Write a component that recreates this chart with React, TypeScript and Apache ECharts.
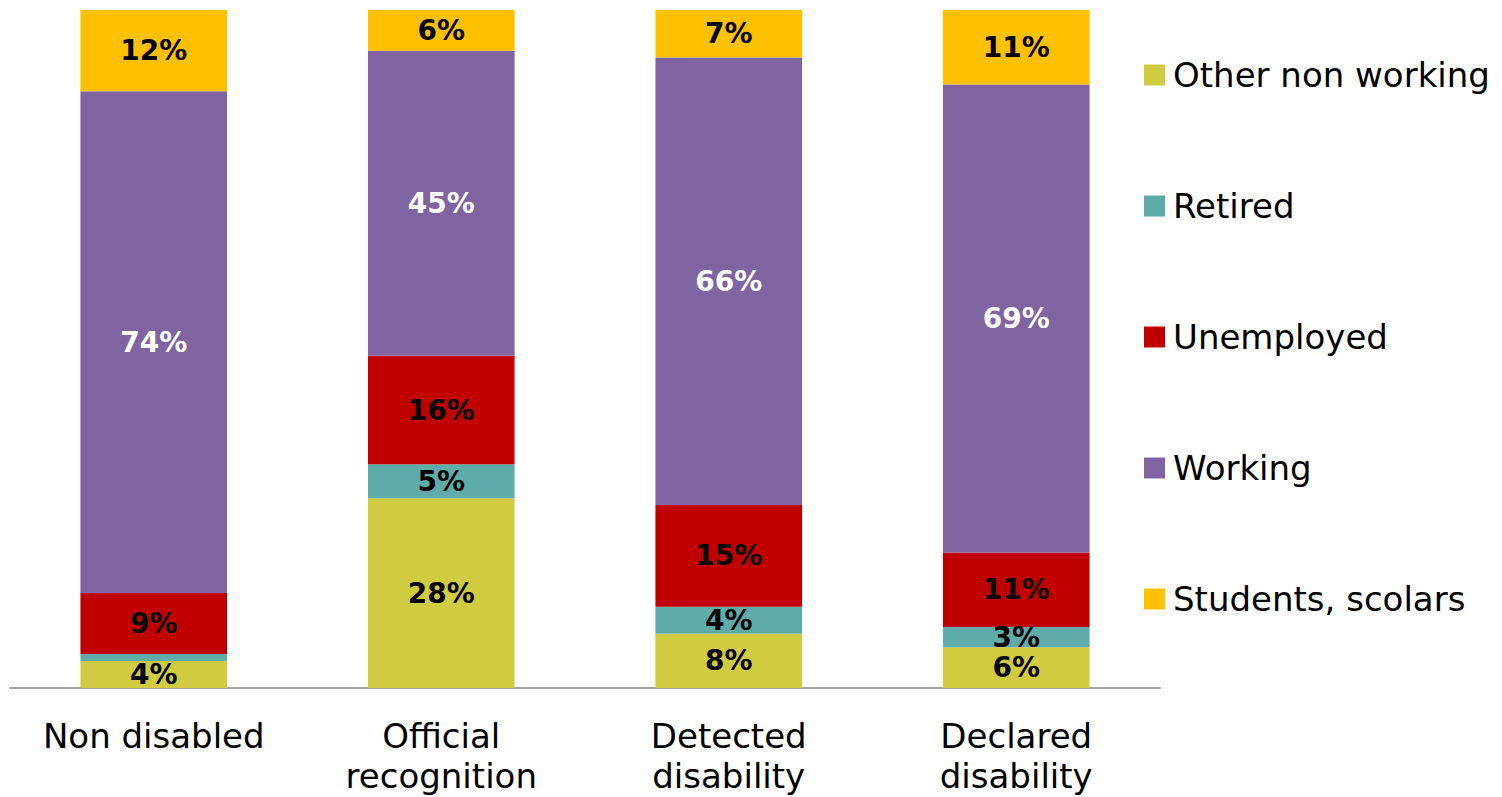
import React, { useEffect, useRef } from "react";
import * as echarts from "echarts";

const categories = ["Non disabled", "Official\nrecognition", "Detected\ndisability", "Declared\ndisability"];
const otherNonWorking = [4, 28, 8, 6];
const retired = [1, 5, 4, 3];
const unemployed = [9, 16, 15, 11];
const working = [74, 45, 66, 69];
const students = [12, 6, 7, 11];

const seriesDefs = [
  { name: "Other non working", data: otherNonWorking, color: "#D0CB41", labelColor: "#000000" },
  { name: "Retired", data: retired, color: "#5FABA9", labelColor: "#000000" },
  { name: "Unemployed", data: unemployed, color: "#C00000", labelColor: "#000000" },
  { name: "Working", data: working, color: "#8064A2", labelColor: "#FFFFFF" },
  { name: "Students, scolars", data: students, color: "#FFC000", labelColor: "#000000" },
];

const FONT = "'DejaVu Sans', Verdana, sans-serif";

export default function App() {
  const ref = useRef<HTMLDivElement>(null);
  useEffect(() => {
    if (!ref.current) return;
    const chart = echarts.init(ref.current, undefined, { renderer: "svg" });
    chart.setOption({
      animation: false,
      backgroundColor: "#FFFFFF",
      textStyle: { fontFamily: FONT },
      grid: { left: 10, right: 342, top: 10, bottom: 109, containLabel: false },
      legend: {
        orient: "vertical",
        left: 1144,
        top: 58,
        padding: 0,
        itemWidth: 21,
        itemHeight: 21,
        itemGap: 97,
        icon: "rect",
        data: seriesDefs.map((s) => s.name),
        textStyle: { fontFamily: FONT, fontSize: 34, color: "#000000", lineHeight: 34, padding: [0, 0, 0, 3] },
      },
      xAxis: {
        type: "category",
        data: categories,
        axisLine: { lineStyle: { color: "#A6A6A6", width: 2 } },
        axisTick: { show: false },
        axisLabel: {
          interval: 0,
          margin: 28,
          fontFamily: FONT,
          fontSize: 34,
          lineHeight: 40,
          color: "#000000",
          verticalAlign: "top",
        },
      },
      yAxis: {
        type: "value",
        min: 0,
        max: 100,
        show: false,
        splitLine: { show: false },
      },
      series: seriesDefs.map((s) => ({
        name: s.name,
        type: "bar",
        stack: "total",
        barWidth: "51%",
        itemStyle: { color: s.color },
        data: s.data.map((v) => ({
          value: v,
          label: { show: v >= 2 },
        })),
        label: {
          show: true,
          position: "inside",
          formatter: "{c}%",
          fontFamily: FONT,
          fontWeight: "bold",
          fontSize: 28,
          color: s.labelColor,
        },
      })),
    });
    return () => chart.dispose();
  }, []);
  return (
    <div
      ref={ref}
      style={{ position: "absolute", left: 0, top: 0, width: 1502, height: 797 }}
    />
  );
}
